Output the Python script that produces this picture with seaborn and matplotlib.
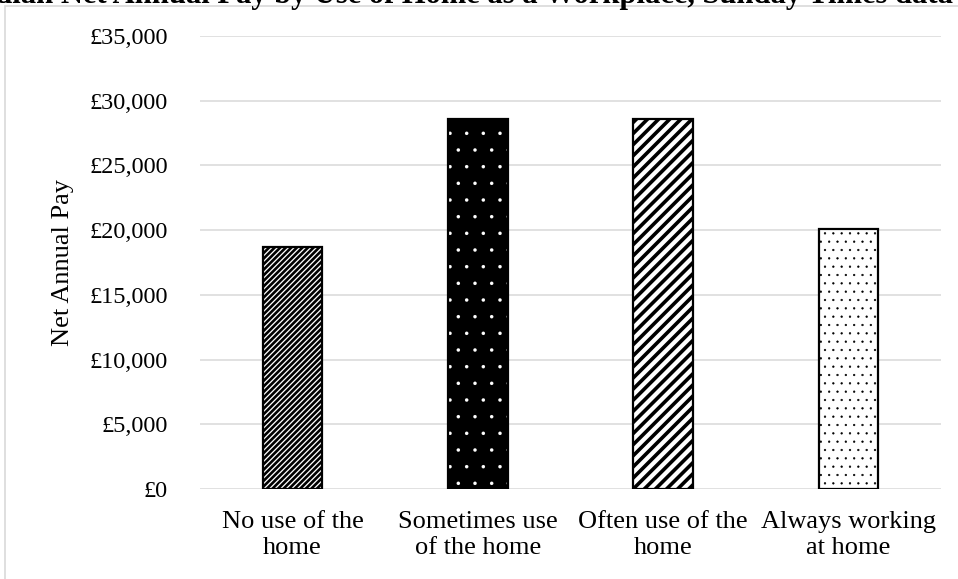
import matplotlib
matplotlib.use("Agg")
import matplotlib.pyplot as plt
import seaborn as sns
import pandas as pd
from matplotlib.ticker import FuncFormatter
from matplotlib.patches import Rectangle

# ---- data ----
categories = ["No use of the\nhome", "Sometimes use\nof the home",
              "Often use of the\nhome", "Always working\nat home"]
net_pay = [18700, 28600, 28600, 20050]
y_ticks = [0, 5000, 10000, 15000, 20000, 25000, 30000, 35000]
title_text = "Median Net Annual Pay by Use of Home as a Workplace, Sunday Times data"

# ---- styles ----
hatches = ["//////", ".", "///", ".."]
face_colors = ["white", "black", "white", "white"]
hatch_colors = ["black", "white", "black", "black"]
hatch_widths = [1.9, 0.1, 2.6, 0.4]

sns.set_theme(style="white")
plt.rcParams["font.family"] = ["Liberation Serif", "DejaVu Serif"]

fig = plt.figure(figsize=(9.58, 5.79), dpi=100)
W, H = 958, 579
ax = fig.add_axes([200 / W, 1 - 489 / H, 741 / W, 453 / H])

df = pd.DataFrame({"category": categories, "pay": net_pay})
sns.barplot(data=df, x="category", y="pay", ax=ax, width=0.32, color="white",
            saturation=1, errorbar=None, zorder=3)


def with_hatch_lw(artist, lw):
    orig = artist.draw

    def draw(renderer, *args, **kwargs):
        with plt.rc_context({"hatch.linewidth": lw}):
            return orig(renderer, *args, **kwargs)
    return draw


for patch, h, fc, hc, hw in zip(ax.patches, hatches, face_colors, hatch_colors, hatch_widths):
    patch.set_facecolor(fc)
    patch.set_edgecolor(hc)
    patch.set_hatch(h)
    patch.set_linewidth(0)
    if hasattr(patch, "set_hatch_linewidth"):
        patch.set_hatch_linewidth(hw)
    patch.draw = with_hatch_lw(patch, hw)

sns.barplot(data=df, x="category", y="pay", ax=ax, width=0.32, fill=False,
            color="black", linewidth=1.6, errorbar=None, zorder=4)

ax.set_ylim(0, 35000)
ax.set_xlim(-0.5, len(categories) - 0.5)
ax.set_yticks(y_ticks)
ax.yaxis.set_major_formatter(FuncFormatter(lambda v, p: "£{:,.0f}".format(v)))
ax.grid(axis="y", color="#d9d9d9", linewidth=1.1, zorder=0)
ax.set_axisbelow(True)
for s in ax.spines.values():
    s.set_visible(False)
ax.tick_params(axis="both", length=0, colors="black")
ax.tick_params(axis="y", pad=23, labelsize=17.5)
ax.tick_params(axis="x", pad=16, labelsize=19)
ax.set_xlabel("")
ax.set_ylabel("Net Annual Pay", fontsize=19, color="black")
ax.yaxis.set_label_coords(-0.17, 0.5)

# outer frame
fig.patches.append(Rectangle((5 / W, -0.2), 1.5, 1 - 6 / H + 0.2, transform=fig.transFigure,
                             fill=False, edgecolor="#d9d9d9", linewidth=1.2))
# clipped title
fig.text(-47 / W, 1 - 3.5 / H, title_text, fontsize=22, fontweight="bold",
         ha="left", va="baseline", color="black")

fig.savefig("out.png", dpi=100)
